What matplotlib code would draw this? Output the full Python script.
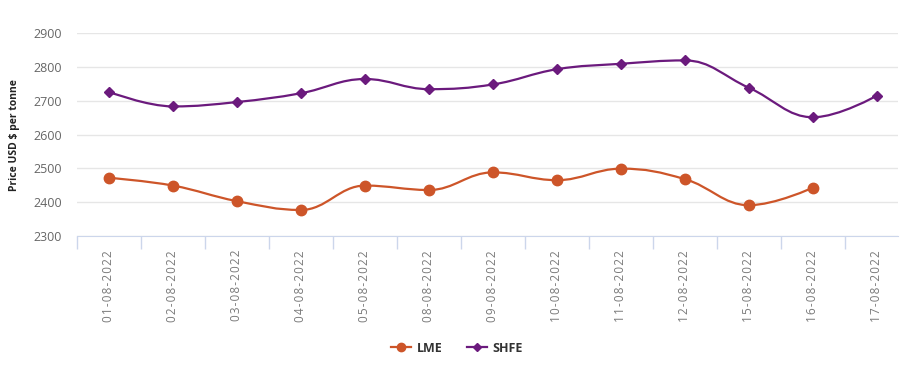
import matplotlib.pyplot as plt
from matplotlib.path import Path
from matplotlib.patches import PathPatch
from matplotlib.lines import Line2D
import numpy as np

# 数据
dates = ['01-08-2022', '02-08-2022', '03-08-2022', '04-08-2022', '05-08-2022',
         '08-08-2022', '09-08-2022', '10-08-2022', '11-08-2022', '12-08-2022',
         '15-08-2022', '16-08-2022', '17-08-2022']
lme = [2472, 2449, 2403, 2377, 2449, 2436, 2488, 2465, 2499, 2468, 2391, 2443]
shfe = [2726, 2683, 2696, 2722, 2764, 2734, 2748, 2793, 2809, 2819, 2738, 2651, 2715]
yticks = [2300, 2400, 2500, 2600, 2700, 2800, 2900]

lme_color = '#cd5529'
shfe_color = '#6b1a7d'
plt.rcParams['font.family'] = ['Open Sans', 'DejaVu Sans']


# 平滑曲线的控制点(类似 Highcharts spline)
def spline_path(xs, ys):
    n = len(xs)
    left = [(xs[i], ys[i]) for i in range(n)]
    right = [(xs[i], ys[i]) for i in range(n)]
    sm, den = 1.5, 2.5
    for i in range(1, n - 1):
        lx = (sm * xs[i] + xs[i - 1]) / den
        ly = (sm * ys[i] + ys[i - 1]) / den
        rx = (sm * xs[i] + xs[i + 1]) / den
        ry = (sm * ys[i] + ys[i + 1]) / den
        corr = ((ry - ly) * (rx - xs[i])) / (rx - lx) + ys[i] - ry
        ly += corr
        ry += corr
        if ly > max(ys[i - 1], ys[i]):
            ly = max(ys[i - 1], ys[i])
            ry = 2 * ys[i] - ly
        elif ly < min(ys[i - 1], ys[i]):
            ly = min(ys[i - 1], ys[i])
            ry = 2 * ys[i] - ly
        if ry > max(ys[i], ys[i + 1]):
            ry = max(ys[i], ys[i + 1])
            ly = 2 * ys[i] - ry
        elif ry < min(ys[i], ys[i + 1]):
            ry = min(ys[i], ys[i + 1])
            ly = 2 * ys[i] - ry
        left[i] = (lx, ly)
        right[i] = (rx, ry)
    verts = [(xs[0], ys[0])]
    codes = [Path.MOVETO]
    for i in range(1, n):
        verts += [right[i - 1], left[i], (xs[i], ys[i])]
        codes += [Path.CURVE4] * 3
    return Path(verts, codes)


fig = plt.figure(figsize=(9.07, 3.65), dpi=100, facecolor='white')
W, H = 907, 365
ax = fig.add_axes([77 / W, (H - 236) / H, (898 - 77) / W, (236 - 33) / H])

x = np.arange(len(dates))
for vals, col, mk, ms in [(lme, lme_color, 'o', 7.5), (shfe, shfe_color, 'D', 5.5)]:
    xs = list(x[:len(vals)])
    ax.add_patch(PathPatch(spline_path(xs, vals), fill=False, edgecolor=col, lw=1.6, zorder=3))
    ax.plot(xs, vals, linestyle='none', marker=mk, ms=ms, color=col, zorder=4)

ax.set_xlim(-0.5, -0.5 + (898 - 77) / 64.0)
ax.set_ylim(2300, 2900)
ax.set_yticks(yticks)
ax.grid(axis='y', color='#e6e6e6', lw=1)
ax.set_axisbelow(True)
for s in ['top', 'right', 'left']:
    ax.spines[s].set_visible(False)
ax.spines['bottom'].set_color('#ccd6eb')
ax.tick_params(axis='y', length=0, pad=11, labelsize=9, labelcolor='#666666')

# 日期标签字符间加细空格，模拟字间距
spaced = ['\u200a'.join(d) for d in dates]
ax.set_xticks(x - 0.5, minor=True)
ax.set_xticks(x)
ax.set_xticklabels(spaced, rotation=90, fontsize=8.5, color='#7a7a7a')
ax.tick_params(axis='x', which='major', length=0, pad=10)
ax.tick_params(axis='x', which='minor', length=9, color='#ccd6eb', width=1)

fig.text(15 / W, (H - 135) / H, 'Price USD $ per tonne', rotation=90, ha='center', va='center',
         fontsize=7.5, fontweight='bold', color='#222222')

handles = [Line2D([], [], color=lme_color, marker='o', ms=6, lw=1.6),
           Line2D([], [], color=shfe_color, marker='D', ms=4.5, lw=1.6)]
leg = fig.legend(handles, ['LME', 'SHFE'], loc='center', bbox_to_anchor=(457 / W, (H - 348) / H),
                 ncol=2, frameon=False, handlelength=1.6, columnspacing=2.0, handletextpad=0.4,
                 prop={'size': 9, 'weight': 'bold'})
for t in leg.get_texts():
    t.set_color('#333333')

fig.savefig('out.png', dpi=100, facecolor='white')
